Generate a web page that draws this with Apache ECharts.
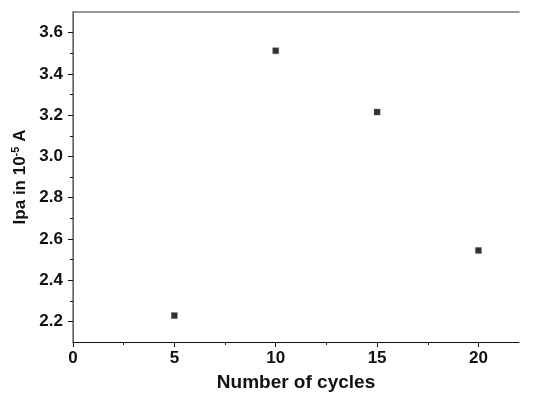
<!DOCTYPE html>
<html>
<head>
<meta charset="utf-8">
<script src="https://cdn.jsdelivr.net/npm/echarts@6/dist/echarts.min.js"></script>
<style>
    html,body{margin:0;padding:0;background:#fff;}
    #myCharts{width:550px;height:397px;}
</style>
</head>
<body>
<div id="myCharts"></div>
<script>
    const cycles = [5, 10, 15, 20];
    const ipa = [2.228, 3.512, 3.215, 2.544];
    const xTicks = [0, 5, 10, 15, 20];
    const xMinorTicks = [2.5, 7.5, 12.5, 17.5];
    const yTicks = [2.2, 2.4, 2.6, 2.8, 3.0, 3.2, 3.4, 3.6];
    const yMinorTicks = [2.3, 2.5, 2.7, 2.9, 3.1, 3.3, 3.5];

    const myCharts = echarts.init(document.getElementById('myCharts'));
    const font = 'Arial, "Liberation Sans", sans-serif';
    const ink = '#111';
    const xRange = {min: 0, max: 22};
    const yRange = {min: 2.1, max: 3.7};

    // plain helper axis: only ticks, or only a frame line
    const helper = (range, extra) => Object.assign({
        type: 'value', min: range.min, max: range.max,
        axisLine: {show: false}, axisTick: {show: false},
        axisLabel: {show: false}, splitLine: {show: false}
    }, extra);

    let options = {
        backgroundColor: '#fff',
        animation: false,
        grid: {left: 73, right: 31, top: 12, bottom: 54},
        xAxis: [
            {
                type: 'value',
                min: xRange.min, max: xRange.max,
                name: 'Number of cycles',
                nameLocation: 'middle',
                nameGap: 31,
                nameTextStyle: {fontFamily: font, fontWeight: 'bold', fontSize: 19, color: ink},
                axisLine: {onZero: false, lineStyle: {color: ink, width: 1}},
                axisTick: {show: true, inside: false, length: 5, customValues: xTicks, lineStyle: {color: ink}},
                axisLabel: {fontFamily: font, fontWeight: 'bold', fontSize: 17, color: ink, margin: 8, customValues: xTicks},
                splitLine: {show: false}
            },
            helper(xRange, {position: 'bottom',
                axisTick: {show: true, inside: false, length: 3, customValues: xMinorTicks, lineStyle: {color: ink}}}),
            helper(xRange, {position: 'top',
                axisLine: {show: true, lineStyle: {color: '#777', width: 1.5}}})
        ],
        yAxis: [
            {
                type: 'value',
                min: yRange.min, max: yRange.max,
                name: '{b|Ipa in 10}{s|-5}{b| A}',
                nameLocation: 'middle',
                nameGap: 42,
                nameTextStyle: {
                    rich: {
                        b: {fontFamily: font, fontWeight: 'bold', fontSize: 17, color: ink},
                        s: {fontFamily: font, fontWeight: 'bold', fontSize: 11, color: ink, verticalAlign: 'top', padding: [0, 0, 8, 0]}
                    }
                },
                axisLine: {onZero: false, lineStyle: {color: ink, width: 1}},
                axisTick: {show: true, inside: false, length: 5, customValues: yTicks, lineStyle: {color: ink}},
                axisLabel: {fontFamily: font, fontWeight: 'bold', fontSize: 17, color: ink, margin: 10,
                    customValues: yTicks, formatter: v => v.toFixed(1)},
                splitLine: {show: false}
            },
            helper(yRange, {position: 'left',
                axisTick: {show: true, inside: false, length: 3, customValues: yMinorTicks, lineStyle: {color: ink}}}),
            helper(yRange, {position: 'right',
                axisLine: {show: true, lineStyle: {color: '#777', width: 1.5}}})
        ],
        series: [
            {
                type: 'scatter',
                symbol: 'rect',
                symbolSize: 6,
                itemStyle: {color: '#000', borderColor: '#555', borderWidth: 0.5},
                data: cycles.map((c, i) => [c, ipa[i]])
            }
        ]
    };
    myCharts.setOption(options);
</script>
</body>
</html>
